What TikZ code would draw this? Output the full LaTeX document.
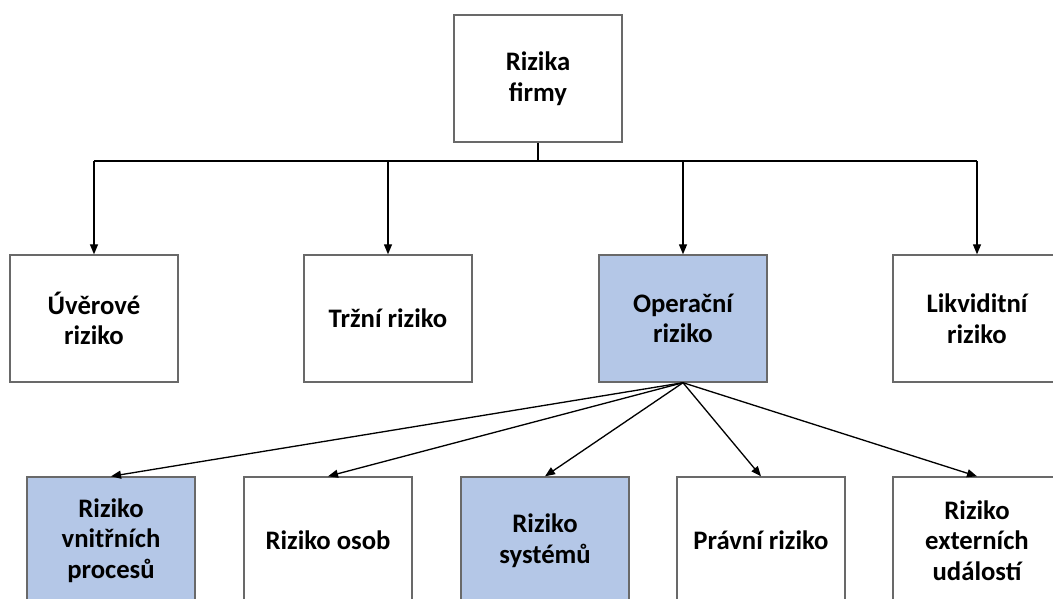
\documentclass[tikz,border=0pt]{standalone}
\usepackage{fontspec}
\setmainfont{Carlito}
\usepackage{xcolor}
\usetikzlibrary{arrows.meta}

\definecolor{opblue}{RGB}{180,199,231}
\definecolor{boxgray}{RGB}{105,105,105}

\tikzset{
    riskbox/.style={draw=boxgray, line width=0.8pt, fill=white,
        minimum width=3.36cm, minimum height=2.54cm, inner sep=0pt,
        align=center, font=\bfseries\fontsize{15.2}{17.4}\selectfont},
    opbox/.style={riskbox, fill=opblue},
    link/.style={line width=0.75pt, -{Triangle[length=0.2cm, width=0.16cm]}}
}

\begin{document}
\begin{tikzpicture}[x=0.02cm, y=-0.02cm]
    \useasboundingbox (0,0) rectangle (1053,598);
    \clip (0,0) rectangle (1053,598);

    % root
    \node[riskbox] (firma) at (538,78.5) {Rizika\\firmy};

    % main kinds of risk
    \node[riskbox] (uver) at (94,318.5) {Úvěrové\\riziko};
    \node[riskbox] (trzni) at (388,318.5) {Tržní riziko};
    \node[opbox] (oper) at (683,318.5) {Operační\\riziko};
    \node[riskbox] (likv) at (977,318.5) {Likviditní\\riziko};

    % parts of operational risk
    \node[opbox] (proc) at (111,540.5) {Riziko\\vnitřních\\procesů};
    \node[riskbox] (osob) at (328,540.5) {Riziko osob};
    \node[opbox] (syst) at (545,540.5) {Riziko\\systémů};
    \node[riskbox] (pravni) at (761,540.5) {Právní riziko};
    \node[riskbox] (ext) at (977,540.5) {Riziko\\externích\\událostí};

    % bus below the root
    \coordinate (split) at (538,161);
    \draw[line width=0.75pt] (firma.south) -- (split);
    \draw[line width=0.75pt] (uver.north |- split) -- (likv.north |- split);
    \foreach \n in {uver,trzni,oper,likv}
        \draw[link] (\n.north |- split) -- (\n.north);

    % fan out from operational risk
    \foreach \n in {proc,osob,syst,pravni,ext}
        \draw[link] (oper.south) -- (\n.north);
\end{tikzpicture}
\end{document}
